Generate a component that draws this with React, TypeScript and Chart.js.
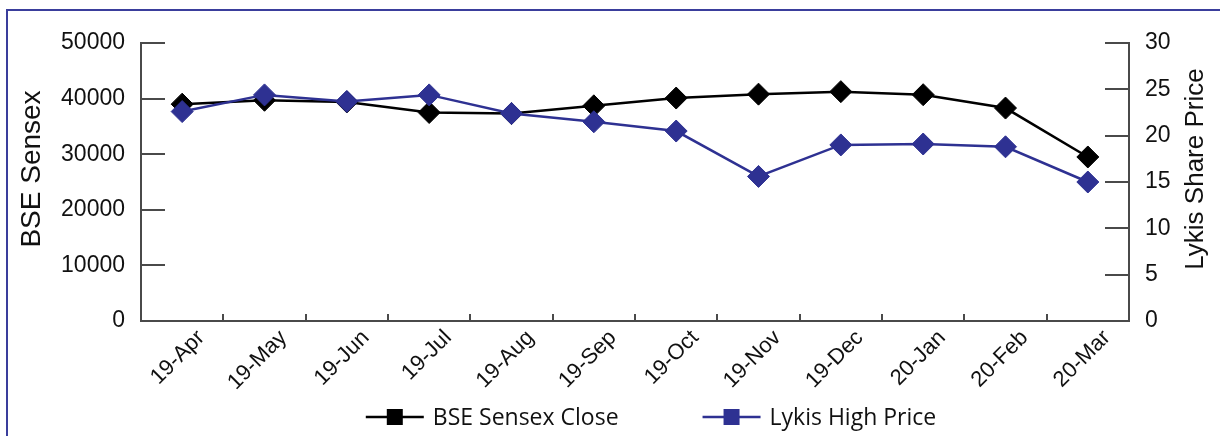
import React, { useEffect, useRef } from 'react';
import { Chart, registerables } from 'chart.js';

Chart.register(...registerables);

const categories = ['19-Apr', '19-May', '19-Jun', '19-Jul', '19-Aug', '19-Sep', '19-Oct', '19-Nov', '19-Dec', '20-Jan', '20-Feb', '20-Mar'];
const bseClose = [39000, 39700, 39400, 37500, 37300, 38700, 40100, 40800, 41250, 40700, 38300, 29500];
const lykisHigh = [22.6, 24.4, 23.7, 24.4, 22.4, 21.5, 20.5, 15.6, 19.0, 19.1, 18.8, 15.0];
const leftTicks = [0, 10000, 20000, 30000, 40000, 50000];
const rightTicks = [0, 5, 10, 15, 20, 25, 30];
const seriesNames = ['BSE Sensex Close', 'Lykis High Price'];
const axisTitles = ['BSE Sensex', 'Lykis Share Price'];

const BLUE = '#2e3192';
const BLACK = '#000000';
const AXIS = '#4a4a4a';
const TEXT = '#111111';
const TICK_FONT = '"Liberation Sans", Arial, sans-serif';
const LEGEND_FONT = '"Open Sans", sans-serif';

export default function App() {
  const ref = useRef<HTMLCanvasElement | null>(null);

  useEffect(() => {
    const canvas = ref.current;
    if (!canvas) return;

    const decor = {
      id: 'decor',
      afterDraw(chart: any) {
        const ctx: CanvasRenderingContext2D = chart.ctx;
        const area = chart.chartArea;
        const xs = chart.scales.x;
        const ys = chart.scales.y;
        const y1s = chart.scales.y1;
        ctx.save();
        ctx.strokeStyle = AXIS;
        ctx.lineWidth = 2;
        ctx.beginPath();
        ys.ticks.forEach((t: any) => {
          const py = Math.round(ys.getPixelForValue(t.value));
          ctx.moveTo(ys.right, py);
          ctx.lineTo(ys.right + 24, py);
        });
        y1s.ticks.forEach((t: any) => {
          const py = Math.round(y1s.getPixelForValue(t.value));
          ctx.moveTo(y1s.left - 24, py);
          ctx.lineTo(y1s.left, py);
        });
        for (let i = 0; i <= categories.length; i++) {
          const px = Math.round(xs.getPixelForValue(i - 0.5));
          ctx.moveTo(px, xs.top);
          ctx.lineTo(px, xs.top - 7);
        }
        ctx.stroke();

        // axis titles
        const cy = (area.top + area.bottom) / 2 - 13;
        ctx.fillStyle = TEXT;
        ctx.textAlign = 'center';
        ctx.textBaseline = 'middle';
        ctx.save();
        ctx.translate(32, cy);
        ctx.rotate(-Math.PI / 2);
        ctx.font = '28px ' + TICK_FONT;
        ctx.fillText(axisTitles[0], 0, 0);
        ctx.restore();
        ctx.save();
        ctx.translate(1196, cy);
        ctx.rotate(-Math.PI / 2);
        ctx.font = '26px ' + TICK_FONT;
        ctx.fillText(axisTitles[1], 0, 0);
        ctx.restore();

        // legend
        const colors = [BLACK, BLUE];
        ctx.font = '23px ' + LEGEND_FONT;
        const lineLen = 58;
        const gapText = 9;
        const gapItems = 84;
        const widths = seriesNames.map((n) => lineLen + gapText + ctx.measureText(n).width);
        const total = widths[0] + gapItems + widths[1];
        const centerX = (area.left + area.right) / 2 + 16;
        let lx = centerX - total / 2;
        const ly = 417;
        seriesNames.forEach((name, i) => {
          ctx.strokeStyle = colors[i];
          ctx.lineWidth = 2.5;
          ctx.beginPath();
          ctx.moveTo(lx, ly);
          ctx.lineTo(lx + lineLen, ly);
          ctx.stroke();
          ctx.fillStyle = colors[i];
          ctx.fillRect(lx + lineLen / 2 - 8, ly - 8, 16, 16);
          ctx.fillStyle = TEXT;
          ctx.textAlign = 'left';
          ctx.textBaseline = 'middle';
          ctx.fillText(name, lx + lineLen + gapText, ly + 1);
          lx += widths[i] + gapItems;
        });
        ctx.restore();
      },
    };

    const chart = new Chart(canvas, {
      type: 'line',
      data: {
        labels: categories,
        datasets: [
          {
            label: seriesNames[0],
            data: bseClose,
            yAxisID: 'y',
            borderColor: BLACK,
            backgroundColor: BLACK,
            borderWidth: 2.5,
            pointStyle: 'rectRot',
            pointRadius: 11,
            pointBorderWidth: 1,
            pointBorderColor: BLACK,
            pointBackgroundColor: BLACK,
            tension: 0,
            order: 1,
            clip: false,
          },
          {
            label: seriesNames[1],
            data: lykisHigh,
            yAxisID: 'y1',
            borderColor: BLUE,
            backgroundColor: BLUE,
            borderWidth: 2.5,
            pointStyle: 'rectRot',
            pointRadius: 11,
            pointBorderWidth: 1,
            pointBorderColor: BLUE,
            pointBackgroundColor: BLUE,
            tension: 0,
            order: 0,
            clip: false,
          },
        ],
      },
      options: {
        animation: false,
        responsive: false,
        devicePixelRatio: 1,
        layout: { padding: { top: 43, left: 0, right: 0, bottom: 0 } },
        plugins: {
          legend: { display: false },
          tooltip: { enabled: false },
          title: { display: false },
        },
        scales: {
          x: {
            type: 'category',
            offset: true,
            grid: { display: true, drawOnChartArea: false, drawTicks: false, offset: true },
            border: { display: true, color: AXIS, width: 2 },
            ticks: {
              minRotation: 45,
              maxRotation: 45,
              autoSkip: false,
              padding: 4,
              labelOffset: 19,
              color: TEXT,
              font: { family: TICK_FONT, size: 22 },
            },
            afterFit(s: any) {
              s.height = 115;
            },
          },
          y: {
            position: 'left',
            min: 0,
            max: 50000,
            afterBuildTicks(s: any) {
              s.ticks = leftTicks.map((v) => ({ value: v }));
            },
            ticks: {
              padding: 16,
              color: TEXT,
              font: { family: TICK_FONT, size: 23 },
              callback: (v: any) => String(v),
            },
            grid: { display: true, drawOnChartArea: false, drawTicks: false },
            border: { display: true, color: AXIS, width: 2 },
            afterFit(s: any) {
              s.width = 141;
            },
          },
          y1: {
            position: 'right',
            min: 0,
            max: 30,
            afterBuildTicks(s: any) {
              s.ticks = rightTicks.map((v) => ({ value: v }));
            },
            ticks: {
              padding: 16,
              color: TEXT,
              font: { family: TICK_FONT, size: 23 },
              callback: (v: any) => String(v),
            },
            grid: { display: true, drawOnChartArea: false, drawTicks: false },
            border: { display: true, color: AXIS, width: 2 },
            afterFit(s: any) {
              s.width = 91;
            },
          },
        },
      },
      plugins: [decor],
    } as any);

    return () => chart.destroy();
  }, []);

  return (
    <div style={{ position: 'fixed', left: 0, top: 0, width: 1220, height: 436, overflow: 'hidden', background: '#fff' }}>
      <div
        style={{
          position: 'absolute',
          left: 6,
          top: 9,
          width: 1400,
          height: 600,
          border: '2px solid #3a3e9c',
          boxSizing: 'border-box',
        }}
      />
      <canvas ref={ref} width={1220} height={436} style={{ position: 'absolute', left: 0, top: 0, width: 1220, height: 436, display: 'block' }} />
    </div>
  );
}
